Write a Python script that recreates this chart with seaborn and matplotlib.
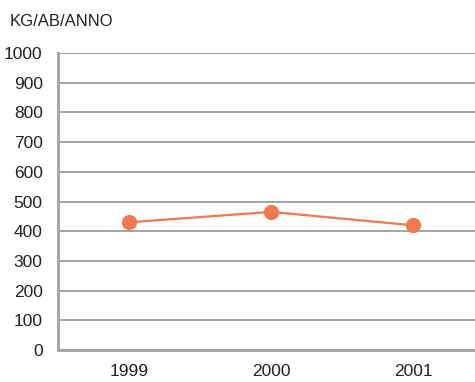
import matplotlib
matplotlib.use("Agg")
import matplotlib.pyplot as plt
import seaborn as sns
import pandas as pd

# Per-capita waste, kg per inhabitant per year
years = ["1999", "2000", "2001"]
kg_per_inhabitant = [430, 465, 420]
y_ticks = [0, 100, 200, 300, 400, 500, 600, 700, 800, 900, 1000]
unit_label = "KG/AB/ANNO"

sns.set_theme(style="white")
plt.rcParams["font.family"] = ["Liberation Sans", "DejaVu Sans"]

df = pd.DataFrame({"anno": years, "kg": kg_per_inhabitant})

fig = plt.figure(figsize=(4.75, 3.82), dpi=100)
ax = fig.add_axes([58 / 475, 32 / 382, 426 / 475, 297 / 382])

grid_col = "#a3a3a3"
line_col = "#f07a50"
text_col = "#222222"

sns.lineplot(data=df, x="anno", y="kg", ax=ax, color=line_col, linewidth=1.6,
             marker="o", markersize=11, markeredgewidth=0, sort=False, zorder=3)

ax.set_xlim(-0.5, 2.5)
ax.set_ylim(0, 1000)
ax.set_yticks(y_ticks)
ax.set_yticklabels([str(v) for v in y_ticks])
ax.yaxis.grid(True, color=grid_col, linewidth=1.4)
ax.set_axisbelow(True)

ax.set_xticks(range(len(years)))
ax.set_xticklabels(years)
ax.set_xticks([0.5, 1.5], minor=True)
ax.tick_params(axis="x", which="major", length=0, pad=10, labelsize=12.5, labelcolor=text_col)
ax.tick_params(axis="x", which="minor", length=6, width=1.3, color=grid_col, direction="out")
ax.tick_params(axis="y", length=6, width=1.3, color=grid_col, direction="out", pad=5,
               labelsize=12.5, labelcolor=text_col)

for side in ["top", "right"]:
    ax.spines[side].set_visible(False)
for side in ["left", "bottom"]:
    ax.spines[side].set_color(grid_col)
    ax.spines[side].set_linewidth(2)

ax.set_xlabel("")
ax.set_ylabel("")

fig.text(10 / 475, 1 - 22 / 382, unit_label, fontsize=12, color=text_col,
         ha="left", va="center")

fig.savefig("out.png", dpi=100, facecolor="white")
